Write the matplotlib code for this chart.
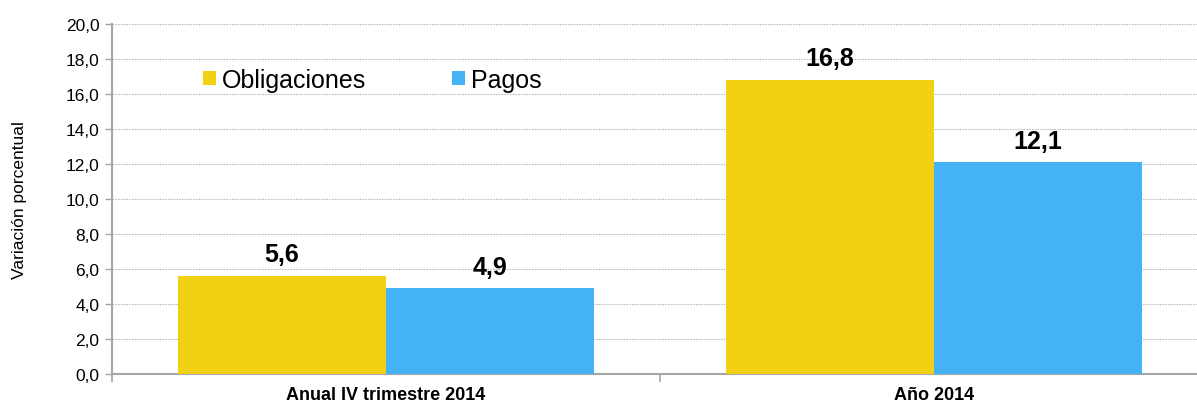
import matplotlib
matplotlib.use('Agg')
import matplotlib.pyplot as plt
import numpy as np

# datos
categorias = ['Anual IV trimestre 2014', 'Año 2014']
obligaciones = [5.6, 16.8]
pagos = [4.9, 12.1]
series = ['Obligaciones', 'Pagos']
colores = ['#F2D013', '#45B2F6']

plt.rcParams['font.family'] = ['Liberation Sans', 'DejaVu Sans']

fig = plt.figure(figsize=(11.97, 4.06), dpi=100)
# el eje llega un poco mas alla del borde derecho (como en la original)
ax = fig.add_axes([112 / 1197, 31 / 406, 1096 / 1197, 350 / 406])

x = np.arange(len(categorias))
ancho = 0.38
b1 = ax.bar(x - ancho / 2, obligaciones, ancho, color=colores[0], label=series[0], zorder=3)
b2 = ax.bar(x + ancho / 2, pagos, ancho, color=colores[1], label=series[1], zorder=3)

# etiquetas de valor
for barras in (b1, b2):
    for r in barras:
        v = r.get_height()
        ax.annotate(f'{v:.1f}'.replace('.', ','), (r.get_x() + r.get_width() / 2, v),
                    xytext=(0, 7), textcoords='offset points',
                    ha='center', va='bottom', fontsize=18, fontweight='bold')

ax.set_ylim(0, 20)
ax.set_xlim(-0.5, 1.5)
ax.set_yticks(np.arange(0, 21, 2))
ax.set_yticklabels([f'{v:.1f}'.replace('.', ',') for v in np.arange(0, 21, 2)], fontsize=12.5)
ax.yaxis.grid(True, color='#BDBDBD', linestyle=(0, (1.5, 1)), linewidth=0.8, zorder=0)

# ticks en los limites de categoria, etiquetas en el centro
ax.set_xticks([-0.5, 0.5, 1.5])
ax.set_xticklabels(['', '', ''])
ax.tick_params(axis='x', which='major', length=6, color='#A6A6A6', width=1.2)
ax.set_xticks(x, minor=True)
ax.set_xticklabels(categorias, minor=True, fontsize=13, fontweight='bold')
ax.tick_params(axis='x', which='minor', length=0, pad=9)
ax.tick_params(axis='y', length=5, color='#A6A6A6', width=1, pad=4)

for s in ['top', 'right']:
    ax.spines[s].set_visible(False)
for s in ['left', 'bottom']:
    ax.spines[s].set_color('#A6A6A6')
    ax.spines[s].set_linewidth(1.5)

ax.set_ylabel('Variación porcentual', fontsize=12.5, labelpad=28)

leg = ax.legend(loc='center left', bbox_to_anchor=(0.074, 0.84), ncol=2, frameon=False,
                fontsize=18, handlelength=0.52, handleheight=0.52, handletextpad=0.25,
                columnspacing=3.4, borderaxespad=0)

fig.savefig('out.png', dpi=100)
